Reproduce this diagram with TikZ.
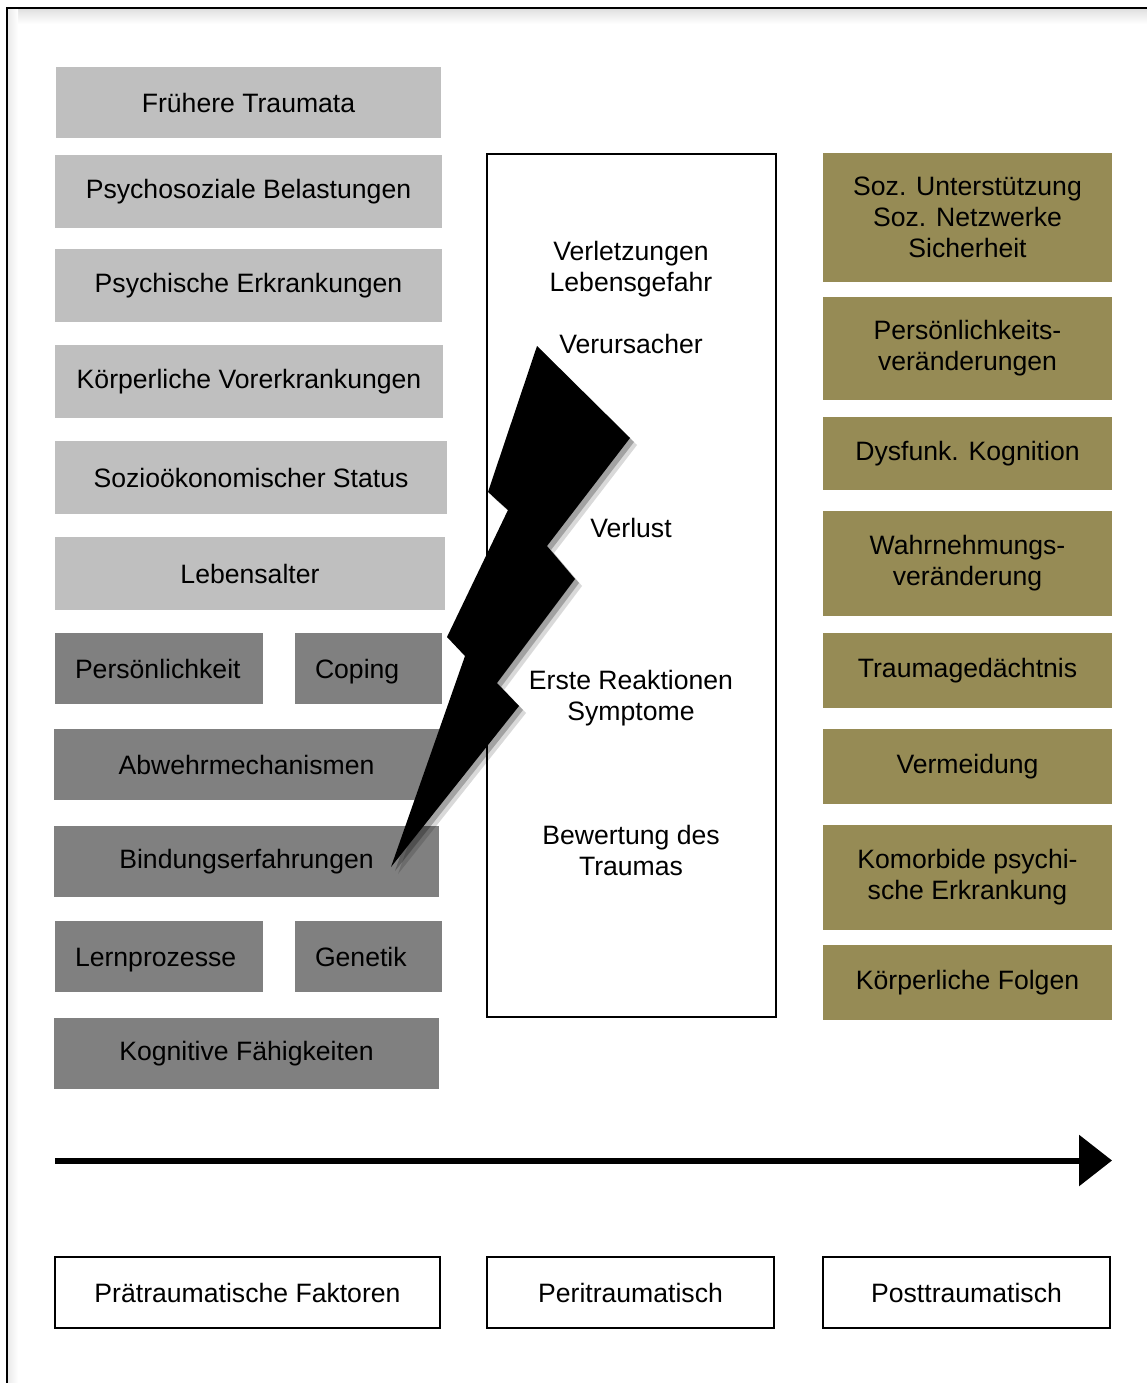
\documentclass[tikz,border=0pt]{standalone}
\usepackage{fontspec}
\setmainfont{Liberation Sans}
\usetikzlibrary{arrows.meta}
\definecolor{pregrey}{RGB}{191,191,191}
\definecolor{persgrey}{RGB}{128,128,128}
\definecolor{postolive}{RGB}{150,139,85}
\tikzset{
  box/.style = {inner sep=0pt, outer sep=0pt, align=center,
                font=\fontsize{26.6}{31}\selectfont},
  pre/.style = {box, fill=pregrey},
  pers/.style = {box, fill=persgrey},
  persleft/.style = {pers, align=left, inner xsep=20pt, text width=#1,
                     text height=22pt, text depth=3pt},
  post/.style = {box, fill=postolive, minimum width=289pt},
  phase/.style = {box, draw, line width=2pt, fill=white}
}

\begin{document}
\begin{tikzpicture}[x=1pt, y=-1pt]
	\useasboundingbox (0,0) rectangle (1147,1383);
	\def\lw{2}

	% Frame (only top and left edge visible)
	\shade[top color=black!12, bottom color=white] (8,9) rectangle (1147,24);
	\shade[left color=black!8, right color=white] (8,9) rectangle (18,1383);
	\draw[line width=\lw pt] (7,1383) -- (7,8) -- (1147,8);

	% Pretraumatic factors
	\node[pre, minimum width=385pt, minimum height=71pt] (fruehere) at (248.5,102.5) {Frühere Traumata};
	\node[pre, minimum width=387pt, minimum height=73pt] (psychosozial) at (248.5,191.5) {Psychosoziale Belastungen};
	\node[pre, minimum width=387pt, minimum height=73pt] (psychisch) at (248.5,285.5) {Psychische Erkrankungen};
	\node[pre, minimum width=388pt, minimum height=73pt] (vorerkrankung) at (249,381.5) {Körperliche Vorerkrankungen};
	\node[pre, minimum width=392pt, minimum height=73pt] (soziooek) at (251,477.5) {Sozioökonomischer Status};
	\node[pre, minimum width=390pt, minimum height=73pt] (lebensalter) at (250,573.5) {Lebensalter};
	\node[persleft=168pt, minimum height=71pt] (persoenlichkeit) at (159,668.5) {Persönlichkeit};
	\node[persleft=107pt, minimum height=71pt] (coping) at (368.5,668.5) {Coping};
	\node[pers, minimum width=385pt, minimum height=71pt] (abwehr) at (246.5,764.5) {Abwehrmechanismen};
	\node[pers, minimum width=385pt, minimum height=71pt] (bindung) at (246.5,861.5) {Bindungserfahrungen};
	\node[persleft=168pt, minimum height=71pt] (lernen) at (159,956.5) {Lernprozesse};
	\node[persleft=107pt, minimum height=71pt] (genetik) at (368.5,956.5) {Genetik};
	\node[pers, minimum width=385pt, minimum height=71pt] (kognitiv) at (246.5,1053.5) {Kognitive Fähigkeiten};

	% Peritraumatic
	\node[phase, minimum width=289pt, minimum height=863pt] (peri) at (631.5,585.5) {};
	\node[box] (verletzung) at (631,269) {Verletzungen\\Lebensgefahr};
	\node[box] (verursacher) at (631,344) {Verursacher};
	\node[box] (verlust) at (631,528) {Verlust};
	\node[box] (reaktion) at (631,698) {Erste Reaktionen\\Symptome};
	\node[box] (bewertung) at (631,850) {Bewertung des\\Traumas};

	% Lightning
	\def\bolt{(537,346) -- (630,438) -- (547,546) -- (575,579) -- (497,683) -- (519,706) -- (391,867) -- (465,656) -- (447,637) -- (508,510) -- (488,492) -- cycle}
	\fill[black, opacity=0.15, shift={(7,7)}] \bolt;
	\fill[black, opacity=0.25, shift={(4,4)}] \bolt;
	\fill[black] \bolt;

	% Posttraumatic factors
	\node[post, minimum height=129pt] (unterstuetzung) at (967.5,217.5) {Soz. Unterstützung\\Soz. Netzwerke\\Sicherheit};
	\node[post, minimum height=103pt] (persveraend) at (967.5,348.5) {Persönlichkeits-\\veränderungen};
	\node[post, minimum height=73pt] (dysfunk) at (967.5,453.5) {Dysfunk. Kognition};
	\node[post, minimum height=105pt] (wahrnehmung) at (967.5,563.5) {Wahrnehmungs-\\veränderung};
	\node[post, minimum height=75pt] (gedaechtnis) at (967.5,670.5) {Traumagedächtnis};
	\node[post, minimum height=75pt] (vermeidung) at (967.5,766.5) {Vermeidung};
	\node[post, minimum height=105pt] (komorbid) at (967.5,877.5) {Komorbide psychi-\\sche Erkrankung};
	\node[post, minimum height=75pt] (folgen) at (967.5,982.5) {Körperliche Folgen};

	% Time axis
	\coordinate (tstart) at (55,1160.5);
	\coordinate (tend) at (1112,1160.5);
	\draw[line width=6pt, black!18, shift={(3,6)}, -{Triangle[length=33pt,width=50pt]}] (tstart) -- (tend);
	\draw[line width=6pt, -{Triangle[length=33pt,width=50pt]}] (tstart) -- (tend);

	% Phases
	\node[phase, minimum width=385pt, minimum height=71pt] (praetrauma) at (247.5,1292.5) {Prätraumatische Faktoren};
	\node[phase, minimum width=287pt, minimum height=71pt] (peritrauma) at (630.5,1292.5) {Peritraumatisch};
	\node[phase, minimum width=287pt, minimum height=71pt] (posttrauma) at (966.5,1292.5) {Posttraumatisch};

\end{tikzpicture}
\end{document}
